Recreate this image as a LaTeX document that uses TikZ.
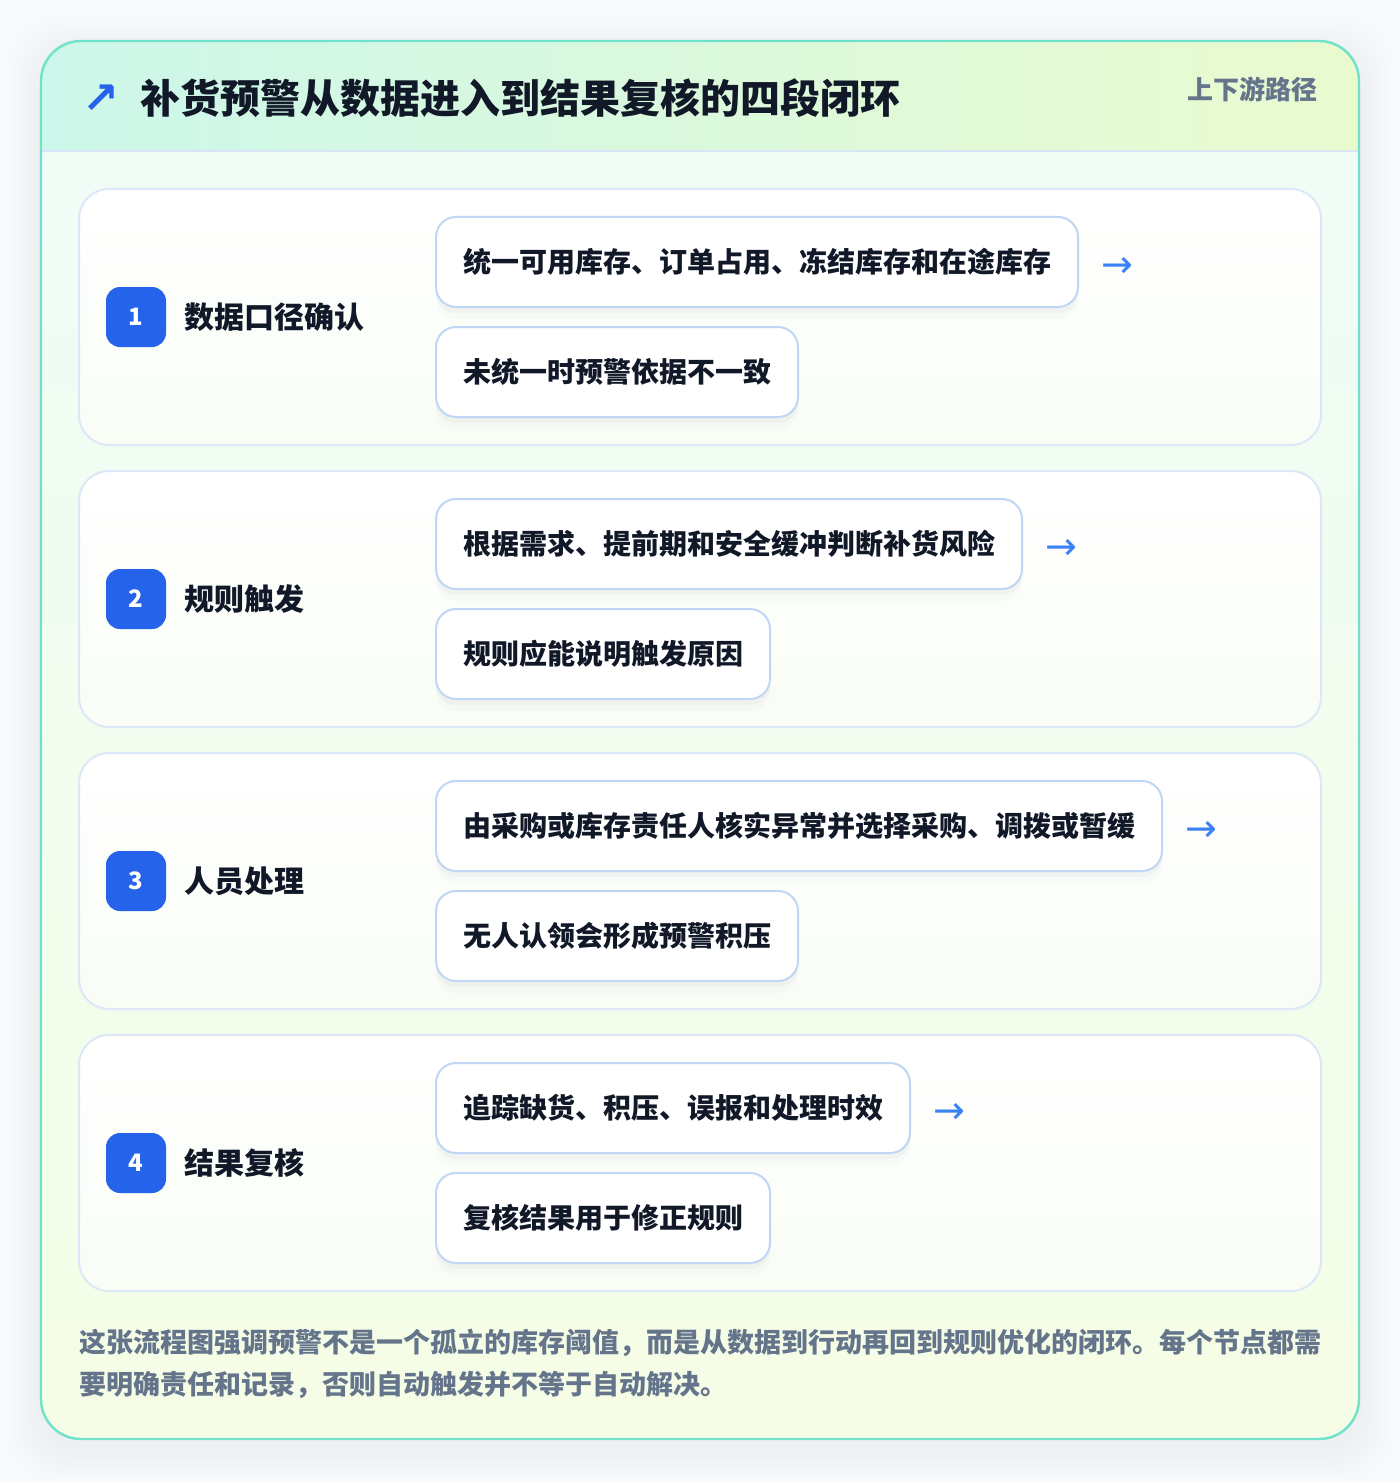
\documentclass[tikz,border=0pt]{standalone}
\usepackage{fontspec}
\setmainfont{Noto Sans CJK SC}
\newfontfamily\symfont{DejaVu Sans}
\usetikzlibrary{positioning}
\usetikzlibrary{shadows}

\definecolor{pagebg}{HTML}{F8F9FA}
\definecolor{cardline}{HTML}{6FE2CB}
\definecolor{headleft}{HTML}{CCF7EA}
\definecolor{headright}{HTML}{EAFACF}
\definecolor{bodytop}{HTML}{EFFCF7}
\definecolor{bodybot}{HTML}{F5FDE6}
\definecolor{sepline}{HTML}{D7E5F6}
\definecolor{panelline}{HTML}{DCE8F8}
\definecolor{panelbot}{HTML}{F9FDF6}
\definecolor{boxline}{HTML}{BFD7F5}
\definecolor{badgeblue}{HTML}{2563EB}
\definecolor{arrowblue}{HTML}{3B82F6}
\definecolor{inktext}{HTML}{111827}
\definecolor{slatetext}{HTML}{64748B}

\tikzset{
  panel/.style={draw=panelline, line width=1pt, rounded corners=15pt,
    top color=white, bottom color=panelbot},
  badge/.style={fill=badgeblue, text=white, rounded corners=7pt,
    minimum size=30pt, inner sep=0pt, font=\bfseries\fontsize{12pt}{14pt}\selectfont},
  stagelabel/.style={inner sep=0pt, text=inktext, font=\bfseries\fontsize{15pt}{18pt}\selectfont},
  stepbox/.style={draw=boxline, line width=1pt, fill=white, rounded corners=10pt,
    inner xsep=13.5pt, inner ysep=0pt, minimum height=45pt, text=inktext,
    font=\bfseries\fontsize{14pt}{17pt}\selectfont,
    drop shadow={shadow xshift=0pt, shadow yshift=-3pt, opacity=.05},
    drop shadow={shadow xshift=0pt, shadow yshift=-6pt, opacity=.03}},
  flowarrow/.style={inner sep=0pt, text=arrowblue, font=\symfont\fontsize{19pt}{21pt}\selectfont}
}

\begin{document}
\begin{tikzpicture}[x=0.5pt,y=-0.5pt]
	\fill[pagebg] (0,0) rectangle (1400,1482);
	\useasboundingbox (0,0) rectangle (1400,1482);
	% soft shadow round the card
	\foreach \s in {3,6,...,30}
	  \fill[black, opacity=.005, rounded corners=24pt] (41-\s,41-\s+10) rectangle (1359+\s,1439+\s+10);
	% card
	\shade[top color=bodytop, bottom color=bodybot, rounded corners=20pt] (41,41) rectangle (1359,1439);
	\begin{scope}
	  \clip[rounded corners=20pt] (41,41) rectangle (1359,1439);
	  \shade[left color=headleft, right color=headright] (41,41) rectangle (1359,151);
	\end{scope}
	\draw[sepline, line width=1pt] (41,151) -- (1359,151);
	\draw[cardline, line width=1.2pt, rounded corners=20pt] (41,41) rectangle (1359,1439);
	% header
	\node[inner sep=0pt, text=badgeblue, font=\symfont\bfseries\fontsize{22pt}{24pt}\selectfont] (icon) at (101,99) {↗};
	\node[anchor=west, inner sep=0pt, text=inktext, font=\bfseries\fontsize{20pt}{24pt}\selectfont]
	  (title) at (140,98) {补货预警从数据进入到结果复核的四段闭环};
	\node[anchor=east, inner sep=0pt, text=slatetext, font=\bfseries\fontsize{13pt}{16pt}\selectfont]
	  (tag) at (1318,89) {上下游路径};
	% stages
	\foreach \i/\lab/\ta/\tb in {
	  1/数据口径确认/统一可用库存、订单占用、冻结库存和在途库存/未统一时预警依据不一致,
	  2/规则触发/根据需求、提前期和安全缓冲判断补货风险/规则应能说明触发原因,
	  3/人员处理/由采购或库存责任人核实异常并选择采购、调拨或暂缓/无人认领会形成预警积压,
	  4/结果复核/追踪缺货、积压、误报和处理时效/复核结果用于修正规则}{
	  \pgfmathsetmacro\ytop{189+282*(\i-1)}
	  \draw[panel] (79,\ytop) rectangle ++(1242,256);
	  \node[badge] (badge\i) at (136,\ytop+128) {\i};
	  \node[stagelabel, right=9pt of badge\i] (stage\i) {\lab};
	  \node[stepbox, anchor=west] (top\i) at (435,\ytop+73) {\ta};
	  \node[stepbox, anchor=west] (bot\i) at (435,\ytop+183) {\tb};
	  \node[flowarrow, right=11pt of top\i, yshift=-2.5pt] (arr\i) {→};
	}
	% note
	\node[anchor=west, inner sep=0pt, align=left, text=slatetext,
	  font=\bfseries\fontsize{13.5pt}{21pt}\selectfont] (note) at (79,1364)
	  {这张流程图强调预警不是一个孤立的库存阈值，而是从数据到行动再回到规则优化的闭环。每个节点都需\\
	   要明确责任和记录，否则自动触发并不等于自动解决。};
\end{tikzpicture}
\end{document}
